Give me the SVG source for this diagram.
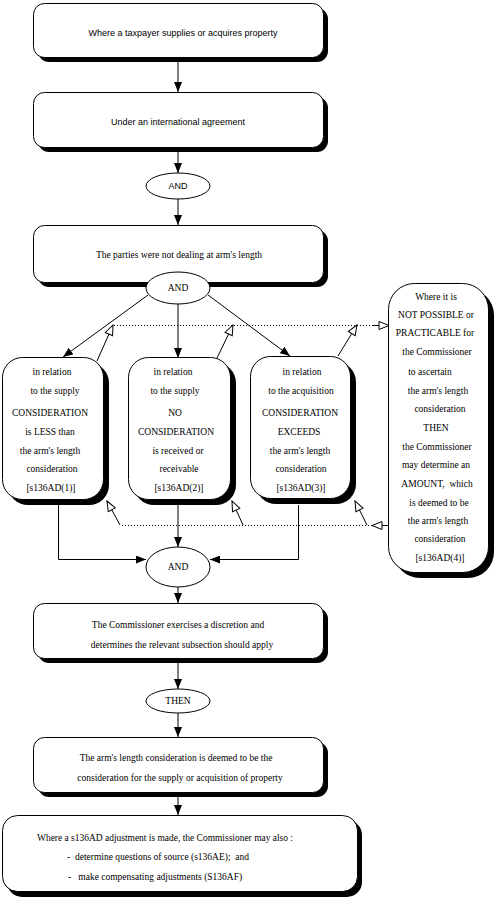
<svg xmlns="http://www.w3.org/2000/svg" width="500" height="900" viewBox="0 0 500 900">
<style>
.box{fill:#fff;stroke:#000;stroke-width:1}
.sh{fill:#000}
.ell{fill:#fff;stroke:#000;stroke-width:1}
.ln{fill:none;stroke:#000;stroke-width:1}
.dot{fill:none;stroke:#000;stroke-width:1;stroke-dasharray:1,2}
.sans{font-family:"Liberation Sans",Arial,sans-serif;font-size:9px;fill:#000}
.serif{font-family:"Liberation Serif","Times New Roman",serif;font-size:9.5px;fill:#000}
.c{text-anchor:middle}
</style>
<defs>
<marker id="arr" viewBox="0 0 10 8" refX="10" refY="4" markerWidth="10" markerHeight="8" markerUnits="userSpaceOnUse" orient="auto">
<path d="M0,0 L10,4 L0,8 z" fill="#000"/>
</marker>
<marker id="hol" viewBox="0 0 12 10" refX="11" refY="5" markerWidth="12" markerHeight="10" markerUnits="userSpaceOnUse" orient="auto">
<path d="M1,1 L11,5 L1,9 z" fill="#fff" stroke="#000" stroke-width="1"/>
</marker>
</defs>

<g id="connectors">
<line class="ln" x1="178" y1="62" x2="178" y2="92" marker-end="url(#arr)"/>
<line class="ln" x1="178" y1="152" x2="178" y2="173" marker-end="url(#arr)"/>
<line class="ln" x1="178" y1="199" x2="178" y2="225" marker-end="url(#arr)"/>
<line class="ln" x1="148" y1="295" x2="63" y2="357" marker-end="url(#arr)"/>
<line class="ln" x1="178" y1="304" x2="178" y2="358" marker-end="url(#arr)"/>
<line class="ln" x1="208" y1="295" x2="290" y2="356" marker-end="url(#arr)"/>
<line class="ln" x1="97" y1="361" x2="113" y2="325" marker-end="url(#hol)"/>
<line class="ln" x1="217" y1="358" x2="233" y2="325" marker-end="url(#hol)"/>
<line class="ln" x1="338" y1="356" x2="357" y2="325" marker-end="url(#hol)"/>
<line class="dot" x1="114" y1="325.5" x2="372" y2="325.5"/>
<line class="ln" x1="372" y1="325.5" x2="389" y2="325.5" marker-end="url(#hol)"/>
<line class="ln" x1="389" y1="525.5" x2="372" y2="525.5" marker-end="url(#hol)"/>
<line class="dot" x1="372" y1="525.5" x2="120" y2="525.5"/>
<line class="ln" x1="120" y1="525" x2="107" y2="501" marker-end="url(#hol)"/>
<line class="ln" x1="243" y1="525" x2="232" y2="501" marker-end="url(#hol)"/>
<line class="ln" x1="367" y1="525" x2="355" y2="501" marker-end="url(#hol)"/>
<polyline class="ln" points="58.5,505 58.5,559.5 146,559.5" marker-end="url(#arr)"/>
<line class="ln" x1="178" y1="505" x2="178" y2="547" marker-end="url(#arr)"/>
<polyline class="ln" points="298.5,505 298.5,559.5 210,559.5" marker-end="url(#arr)"/>
<line class="ln" x1="178" y1="587" x2="178" y2="603" marker-end="url(#arr)"/>
<line class="ln" x1="178" y1="663" x2="178" y2="689" marker-end="url(#arr)"/>
<line class="ln" x1="178" y1="713" x2="178" y2="737" marker-end="url(#arr)"/>
<line class="ln" x1="178" y1="797" x2="178" y2="815" marker-end="url(#arr)"/>
</g>

<g id="n1">
<rect class="sh" x="38" y="8" width="290" height="54" rx="11"/>
<rect class="box" x="33.5" y="3.5" width="290" height="54" rx="11"/>
<text class="sans c" x="183" y="36">Where a taxpayer supplies or acquires property</text>
</g>

<g id="n2">
<rect class="sh" x="38" y="97" width="290" height="55" rx="11"/>
<rect class="box" x="33.5" y="92.5" width="290" height="55" rx="11"/>
<text class="sans c" x="178" y="125">Under an international agreement</text>
</g>

<g id="and1">
<ellipse class="ell" cx="178" cy="186" rx="32" ry="13"/>
<text class="sans c" x="178" y="189">AND</text>
</g>

<g id="n3">
<rect class="sh" x="38" y="230" width="290" height="57" rx="11"/>
<rect class="box" x="33.5" y="225.5" width="290" height="57" rx="11"/>
<text class="serif c" x="179" y="258">The parties were not dealing at arm's length</text>
</g>

<g id="and2">
<ellipse class="ell" cx="178" cy="288" rx="32" ry="16"/>
<text class="serif c" x="178" y="291">AND</text>
</g>

<g id="nA">
<rect class="sh" x="8" y="363" width="101" height="142" rx="20"/>
<rect class="box" x="2.5" y="357.5" width="101" height="142" rx="20"/>
<text class="serif c" x="52" y="375">in relation</text>
<text class="serif c" x="55" y="394">to the supply</text>
<text class="serif c" x="50" y="416">CONSIDERATION</text>
<text class="serif c" x="50" y="435">is LESS than</text>
<text class="serif c" x="50" y="454">the arm's length</text>
<text class="serif c" x="52" y="472">consideration</text>
<text class="serif c" x="51" y="491">[s136AD(1)]</text>
</g>

<g id="nB">
<rect class="sh" x="134" y="363" width="102" height="142" rx="20"/>
<rect class="box" x="128.5" y="357.5" width="102" height="142" rx="20"/>
<text class="serif c" x="173" y="375">in relation</text>
<text class="serif c" x="175" y="394">to the supply</text>
<text class="serif c" x="175" y="416">NO</text>
<text class="serif c" x="176" y="435">CONSIDERATION</text>
<text class="serif c" x="178" y="454">is received or</text>
<text class="serif c" x="179" y="472">receivable</text>
<text class="serif c" x="179" y="491">[s136AD(2)]</text>
</g>

<g id="nC">
<rect class="sh" x="256" y="362" width="100" height="142" rx="20"/>
<rect class="box" x="250.5" y="356.5" width="100" height="142" rx="20"/>
<text class="serif c" x="302" y="375">in relation</text>
<text class="serif c" x="301" y="394">to the acquisition</text>
<text class="serif c" x="300" y="416">CONSIDERATION</text>
<text class="serif c" x="299" y="435">EXCEEDS</text>
<text class="serif c" x="300" y="454">the arm's length</text>
<text class="serif c" x="301" y="472">consideration</text>
<text class="serif c" x="301" y="491">[s136AD(3)]</text>
</g>

<g id="nD">
<rect class="sh" x="394" y="289" width="100" height="289" rx="26"/>
<rect class="box" x="388.5" y="283.5" width="100" height="289" rx="26"/>
<text class="serif c" x="436" y="300">Where it is</text>
<text class="serif c" x="436" y="318">NOT POSSIBLE or</text>
<text class="serif c" x="435" y="336">PRACTICABLE for</text>
<text class="serif c" x="437" y="355">the Commissioner</text>
<text class="serif c" x="430" y="375">to ascertain</text>
<text class="serif c" x="438" y="394">the arm's length</text>
<text class="serif c" x="440" y="412">consideration</text>
<text class="serif c" x="436" y="431">THEN</text>
<text class="serif c" x="437" y="450">the Commissioner</text>
<text class="serif c" x="436" y="468">may determine an</text>
<text class="serif c" x="437" y="487" xml:space="preserve">AMOUNT,  which</text>
<text class="serif c" x="439" y="506">is deemed to be</text>
<text class="serif c" x="438" y="524">the arm's length</text>
<text class="serif c" x="440" y="542">consideration</text>
<text class="serif c" x="440" y="561">[s136AD(4)]</text>
</g>

<g id="and3">
<ellipse class="ell" cx="178" cy="567" rx="32" ry="20"/>
<text class="serif c" x="178" y="570">AND</text>
</g>

<g id="n4">
<rect class="sh" x="38" y="608" width="290" height="55" rx="11"/>
<rect class="box" x="33.5" y="603.5" width="290" height="55" rx="11"/>
<text class="serif c" x="178" y="628">The Commissioner exercises a discretion and</text>
<text class="serif c" x="182" y="648">determines the relevant subsection should apply</text>
</g>

<g id="then">
<ellipse class="ell" cx="178" cy="701" rx="32" ry="12"/>
<text class="serif c" x="178" y="704">THEN</text>
</g>

<g id="n5">
<rect class="sh" x="38" y="742" width="290" height="55" rx="11"/>
<rect class="box" x="33.5" y="737.5" width="290" height="55" rx="11"/>
<text class="serif c" x="176" y="761">The arm's length consideration is deemed to be the</text>
<text class="serif c" x="180" y="781">consideration for the supply or acquisition of property</text>
</g>

<g id="n6">
<rect class="sh" x="7" y="820" width="355" height="77" rx="15"/>
<rect class="box" x="2.5" y="815.5" width="355" height="76" rx="15"/>
<text class="serif" x="37" y="841" textLength="256" lengthAdjust="spacingAndGlyphs">Where a s136AD adjustment is made, the Commissioner may also :</text>
<text class="serif" x="67" y="860" xml:space="preserve">-  determine questions of source (s136AE);  and</text>
<text class="serif" x="68" y="880" xml:space="preserve">-   make compensating adjustments (S136AF)</text>
</g>
</svg>
